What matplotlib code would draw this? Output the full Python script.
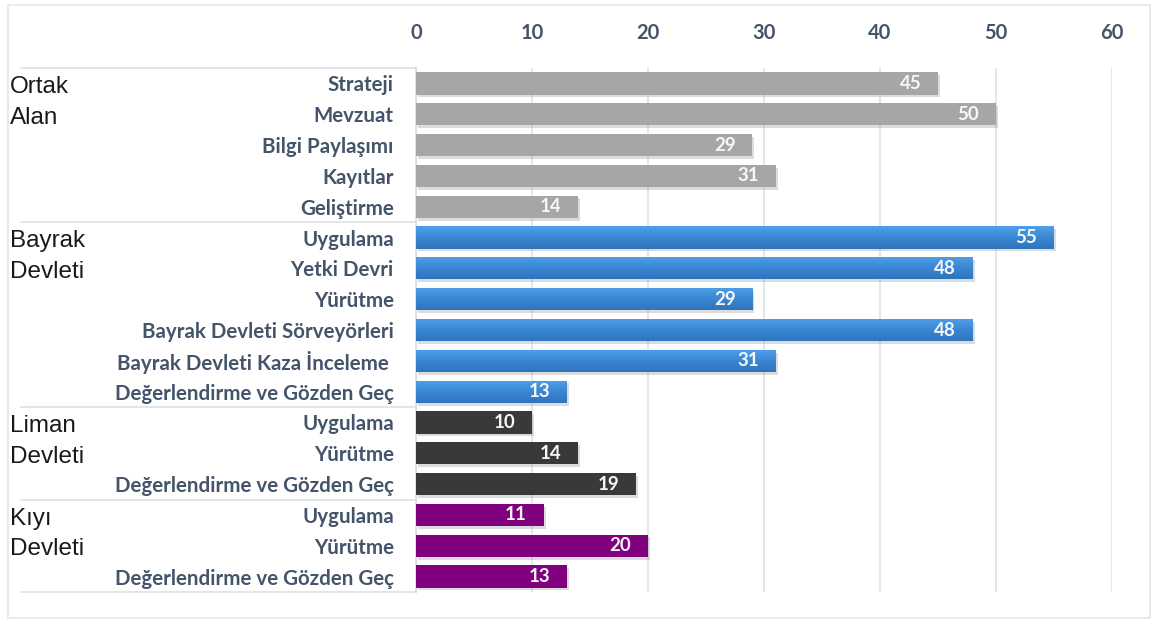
import matplotlib
matplotlib.use("Agg")
import matplotlib.pyplot as plt
import matplotlib.patheffects as pe
from matplotlib.patches import Rectangle
from matplotlib.colors import LinearSegmentedColormap
from matplotlib.transforms import blended_transform_factory
import numpy as np

# ---- data ----
group_names = [["Ortak", "Alan"], ["Bayrak", "Devleti"], ["Liman", "Devleti"], ["Kıyı", "Devleti"]]
ortak_labels = ["Strateji", "Mevzuat", "Bilgi Paylaşımı", "Kayıtlar", "Geliştirme"]
ortak_values = [45, 50, 29, 31, 14]
bayrak_labels = ["Uygulama", "Yetki Devri", "Yürütme", "Bayrak Devleti Sörveyörleri",
                 "Bayrak Devleti Kaza İnceleme ", "Değerlendirme ve Gözden Geç"]
bayrak_values = [55, 48, 29, 48, 31, 13]
liman_labels = ["Uygulama", "Yürütme", "Değerlendirme ve Gözden Geç"]
liman_values = [10, 14, 19]
kiyi_labels = ["Uygulama", "Yürütme", "Değerlendirme ve Gözden Geç"]
kiyi_values = [11, 20, 13]
x_ticks = [0, 10, 20, 30, 40, 50, 60]

group_labels = [ortak_labels, bayrak_labels, liman_labels, kiyi_labels]
group_values = [ortak_values, bayrak_values, liman_values, kiyi_values]
group_colors = ["#A6A6A6", "#3C8AD6", "#3A3838", "#800080"]

W, H = 1157, 619
fig = plt.figure(figsize=(W / 100, H / 100), dpi=100)
fig.patch.set_facecolor("white")

ax = fig.add_axes([416 / W, 1 - 592 / H, (1112 - 416) / W, (592 - 68) / H])

label_font = "Lato"
text_color = "#44546A"

bar_h = 0.72
shadow = [pe.SimplePatchShadow(offset=(1.5, -2), shadow_rgbFace="#8C8C8C", alpha=0.3), pe.Normal()]
blue_grad = LinearSegmentedColormap.from_list("bg", ["#4FA0EA", "#3A86D2", "#2F75BD"])

all_labels = []
row = 0
boundaries = [-0.5]
label_rows = []
for gi, (labels, values, color) in enumerate(zip(group_labels, group_values, group_colors)):
    start = row
    for lab, val in zip(labels, values):
        bars = ax.barh(row, val, height=bar_h, color=color, zorder=3, linewidth=0)
        bar = bars[0]
        bar.set_path_effects(shadow)
        if gi == 1:
            grad = np.linspace(0, 1, 64).reshape(-1, 1)
            im = ax.imshow(grad, cmap=blue_grad, aspect="auto", origin="upper",
                           extent=(0, val, row + bar_h / 2, row - bar_h / 2), zorder=4)
            im.set_clip_path(bar)
        ax.annotate(str(val), xy=(val, row), xytext=(-12, 0), textcoords="offset points",
                    ha="right", va="center", color="#F7F7F7", fontsize=13.5,
                    fontfamily=label_font, fontweight="bold", zorder=5)
        all_labels.append(lab)
        row += 1
    label_rows.append((start, group_names[gi]))
    boundaries.append(row - 0.5)

n = row
ax.set_xlim(0, 60)
ax.set_ylim(n - 0.5, -0.5)
ax.set_yticks(range(n))
ax.set_yticklabels(all_labels, fontfamily=label_font, fontweight="bold", fontsize=14.8, color=text_color)
ax.tick_params(axis="y", length=0, pad=16)

ax.xaxis.tick_top()
ax.set_xticks(x_ticks)
ax.set_xticklabels([str(t) for t in x_ticks], fontfamily=label_font, fontweight="bold",
                   fontsize=14.5, color=text_color)
ax.tick_params(axis="x", length=0, pad=18)
ax.grid(axis="x", color="#DCE3EC", linewidth=1.2, zorder=0)
ax.set_axisbelow(True)
for s in ["top", "right", "bottom"]:
    ax.spines[s].set_visible(False)
ax.spines["left"].set_color("#D9DCE2")
ax.spines["left"].set_linewidth(1.2)

# group separators and group names in the left margin
trans = blended_transform_factory(fig.transFigure, ax.transData)
for b in boundaries:
    ax.plot([21 / W, 416 / W], [b, b], transform=trans, color="#DCE1E8", lw=1.2, clip_on=False, zorder=1)
for start, words in label_rows:
    for k, w in enumerate(words):
        ax.text(10 / W, start + k + 0.12, w, transform=trans, ha="left", va="center",
                fontsize=17.5, fontfamily="Liberation Sans", color="#1A1A1A")

# outer frame
fig.patches.append(Rectangle((8 / W, 1 - 618 / H), (1150 - 8) / W, (618 - 5) / H,
                             transform=fig.transFigure, fill=False, edgecolor="#E4E6EA", lw=1.2))

fig.savefig("out.png", dpi=100)
